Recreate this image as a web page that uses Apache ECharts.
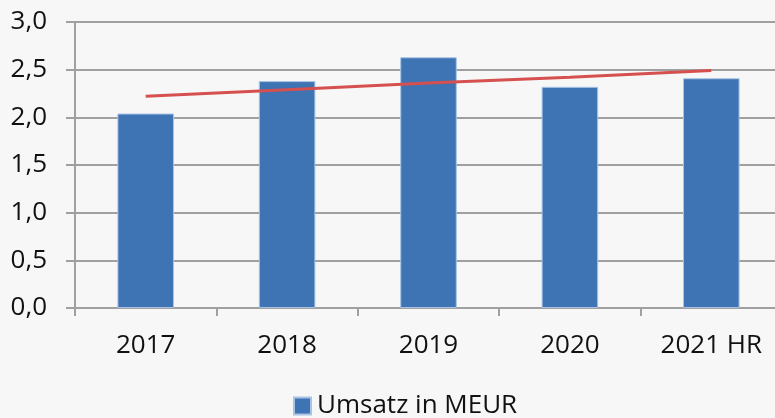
<!DOCTYPE html>
<html>
<head>
<meta charset="utf-8">
<script src="https://cdn.jsdelivr.net/npm/echarts@6/dist/echarts.min.js"></script>
<style>
  html, body { margin: 0; padding: 0; background: #f7f7f7; overflow: hidden; }
  #chart { width: 782px; height: 418px; }
</style>
</head>
<body>
<div id="chart"></div>
<script>
var years = ['2017', '2018', '2019', '2020', '2021 HR'];
var umsatz = [2.04, 2.38, 2.63, 2.32, 2.41];
var trend = [2.22, 2.29, 2.36, 2.42, 2.49];
var yTicks = { min: 0, max: 3, interval: 0.5 };

// chart is a bit wider than the window, the plot area runs past the right edge
var chart = echarts.init(document.getElementById('chart'));
var gridColor = '#a0a0a0';
var fontFamily = '"Open Sans", "Noto Sans", sans-serif';

chart.setOption({
  backgroundColor: '#f7f7f7',
  animation: false,
  textStyle: { fontFamily: fontFamily },
  legend: {
    data: ['Umsatz in MEUR'],
    top: 388,
    left: 288,
    itemWidth: 17,
    itemHeight: 17,
    icon: 'rect',
    textStyle: { fontSize: 26, color: '#111', fontFamily: fontFamily, padding: [0, 0, 0, 1] }
  },
  grid: {
    left: 75,
    right: 0,
    top: 22,
    bottom: 110
  },
  xAxis: {
    type: 'category',
    data: years,
    axisLine: { lineStyle: { color: gridColor, width: 2 } },
    axisTick: { show: true, length: 8, lineStyle: { color: gridColor, width: 2 } },
    axisLabel: { fontSize: 26, color: '#111', margin: 25, fontFamily: fontFamily }
  },
  yAxis: {
    type: 'value',
    min: yTicks.min,
    max: yTicks.max,
    interval: yTicks.interval,
    axisLine: { show: true, lineStyle: { color: gridColor, width: 2 } },
    axisTick: { show: true, length: 9, lineStyle: { color: gridColor, width: 2 } },
    splitLine: { lineStyle: { color: gridColor, width: 2 } },
    axisLabel: {
      fontSize: 26,
      color: '#111',
      margin: 28,
      fontFamily: fontFamily,
      formatter: function (v) { return v.toFixed(1).replace('.', ','); }
    }
  },
  series: [
    {
      name: 'Umsatz in MEUR',
      type: 'bar',
      data: umsatz,
      barWidth: '40%',
      itemStyle: { color: '#3e73b4', borderColor: '#a9c3e6', borderWidth: 1 }
    },
    {
      name: 'Trend',
      type: 'line',
      data: trend,
      symbol: 'none',
      z: 5,
      lineStyle: { color: '#d5504f', width: 3 }
    }
  ]
});
</script>
</body>
</html>
